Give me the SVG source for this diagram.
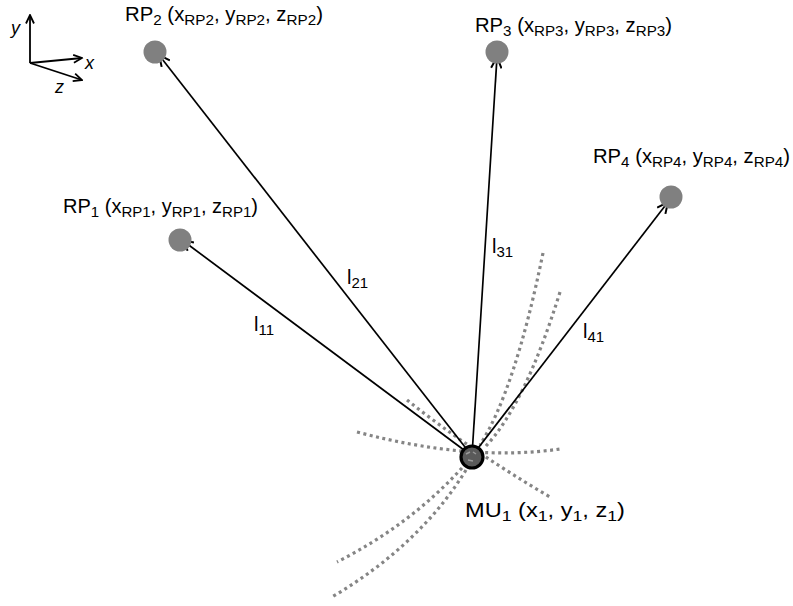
<svg xmlns="http://www.w3.org/2000/svg" width="793" height="606" viewBox="0 0 793 606">
<style>
text{font-family:"Liberation Sans",Arial,sans-serif;fill:#000}
.lbl{font-size:20px}
.sub{font-size:15px}
.ax{font-size:18px;font-style:italic}
.dot{fill:none;stroke:#858585;stroke-width:3.2;stroke-dasharray:3 3.5}
.arr{stroke:#000;stroke-width:1.7;fill:none;marker-end:url(#ah)}
.axl{stroke:#000;stroke-width:1.8;fill:none;marker-end:url(#ah2)}
.rp{fill:#808080}
</style>
<defs>
<marker id="ah" markerUnits="userSpaceOnUse" viewBox="0 0 14 12" markerWidth="14" markerHeight="12" refX="12" refY="6" orient="auto">
<path d="M1,0.8 L12,6 L1,11.2" fill="none" stroke="#000" stroke-width="2"/>
</marker>
<marker id="ah2" markerUnits="userSpaceOnUse" viewBox="0 0 11 10" markerWidth="11" markerHeight="10" refX="9.5" refY="5" orient="auto">
<path d="M1,1 L9.5,5 L1,9" fill="none" stroke="#000" stroke-width="1.8"/>
</marker>
</defs>

<g id="axes">
<line class="axl" x1="30" y1="63" x2="30" y2="15"/>
<line class="axl" x1="30" y1="63" x2="82" y2="58"/>
<line class="axl" x1="30" y1="63" x2="82" y2="80"/>
<text class="ax" x="11" y="34">y</text>
<text class="ax" x="85" y="69">x</text>
<text class="ax" x="55" y="93">z</text>
</g>

<g id="dotted">
<path class="dot" d="M357,432 Q470,462 560,449"/>
<path class="dot" d="M407,400 Q470,450 550,497"/>
<path class="dot" d="M543,253 Q515,390 480,445"/>
<path class="dot" d="M560,292 Q525,405 485,447"/>
<path class="dot" d="M462,468 Q410,525 337,562"/>
<path class="dot" d="M466,470 Q420,545 332,597"/>
</g>

<g id="connectors">
<line class="arr" x1="472" y1="456" x2="159" y2="55"/>
<line class="arr" x1="472" y1="456" x2="182" y2="240"/>
<line class="arr" x1="472" y1="456" x2="497" y2="57"/>
<line class="arr" x1="472" y1="456" x2="668" y2="202"/>
</g>

<g id="RP1">
<circle class="rp" cx="180" cy="240" r="11.5"/>
<text class="lbl" x="63" y="213" textLength="195" lengthAdjust="spacingAndGlyphs">RP<tspan class="sub" dy="4">1</tspan><tspan dy="-4"> (x</tspan><tspan class="sub" dy="4">RP1</tspan><tspan dy="-4">, y</tspan><tspan class="sub" dy="4">RP1</tspan><tspan dy="-4">, z</tspan><tspan class="sub" dy="4">RP1</tspan><tspan dy="-4">)</tspan></text>
</g>
<g id="RP2">
<circle class="rp" cx="155" cy="52" r="11.5"/>
<text class="lbl" x="125" y="21" textLength="198" lengthAdjust="spacingAndGlyphs">RP<tspan class="sub" dy="4">2</tspan><tspan dy="-4"> (x</tspan><tspan class="sub" dy="4">RP2</tspan><tspan dy="-4">, y</tspan><tspan class="sub" dy="4">RP2</tspan><tspan dy="-4">, z</tspan><tspan class="sub" dy="4">RP2</tspan><tspan dy="-4">)</tspan></text>
</g>
<g id="RP3">
<circle class="rp" cx="497" cy="52" r="11.5"/>
<text class="lbl" x="475" y="32" textLength="197" lengthAdjust="spacingAndGlyphs">RP<tspan class="sub" dy="4">3</tspan><tspan dy="-4"> (x</tspan><tspan class="sub" dy="4">RP3</tspan><tspan dy="-4">, y</tspan><tspan class="sub" dy="4">RP3</tspan><tspan dy="-4">, z</tspan><tspan class="sub" dy="4">RP3</tspan><tspan dy="-4">)</tspan></text>
</g>
<g id="RP4">
<circle class="rp" cx="671" cy="197" r="11.5"/>
<text class="lbl" x="593" y="163" textLength="197" lengthAdjust="spacingAndGlyphs">RP<tspan class="sub" dy="4">4</tspan><tspan dy="-4"> (x</tspan><tspan class="sub" dy="4">RP4</tspan><tspan dy="-4">, y</tspan><tspan class="sub" dy="4">RP4</tspan><tspan dy="-4">, z</tspan><tspan class="sub" dy="4">RP4</tspan><tspan dy="-4">)</tspan></text>
</g>

<g id="MU1">
<circle cx="472" cy="457" r="11" fill="#5a5a5a" stroke="#000" stroke-width="3.2"/>
<path d="M466,454 l4,-2 M473,452 l3,2 M468,460 l5,1" stroke="#999" stroke-width="1.5"/>
<text class="lbl" x="465" y="517" textLength="160" lengthAdjust="spacingAndGlyphs">MU<tspan class="sub" dy="4">1</tspan><tspan dy="-4"> (x</tspan><tspan class="sub" dy="4">1</tspan><tspan dy="-4">, y</tspan><tspan class="sub" dy="4">1</tspan><tspan dy="-4">, z</tspan><tspan class="sub" dy="4">1</tspan><tspan dy="-4">)</tspan></text>
</g>

<g id="labels">
<text class="lbl" x="254" y="331">l<tspan class="sub" dy="4">11</tspan></text>
<text class="lbl" x="347" y="284">l<tspan class="sub" dy="4">21</tspan></text>
<text class="lbl" x="492" y="253">l<tspan class="sub" dy="4">31</tspan></text>
<text class="lbl" x="583" y="338">l<tspan class="sub" dy="4">41</tspan></text>
</g>
</svg>
